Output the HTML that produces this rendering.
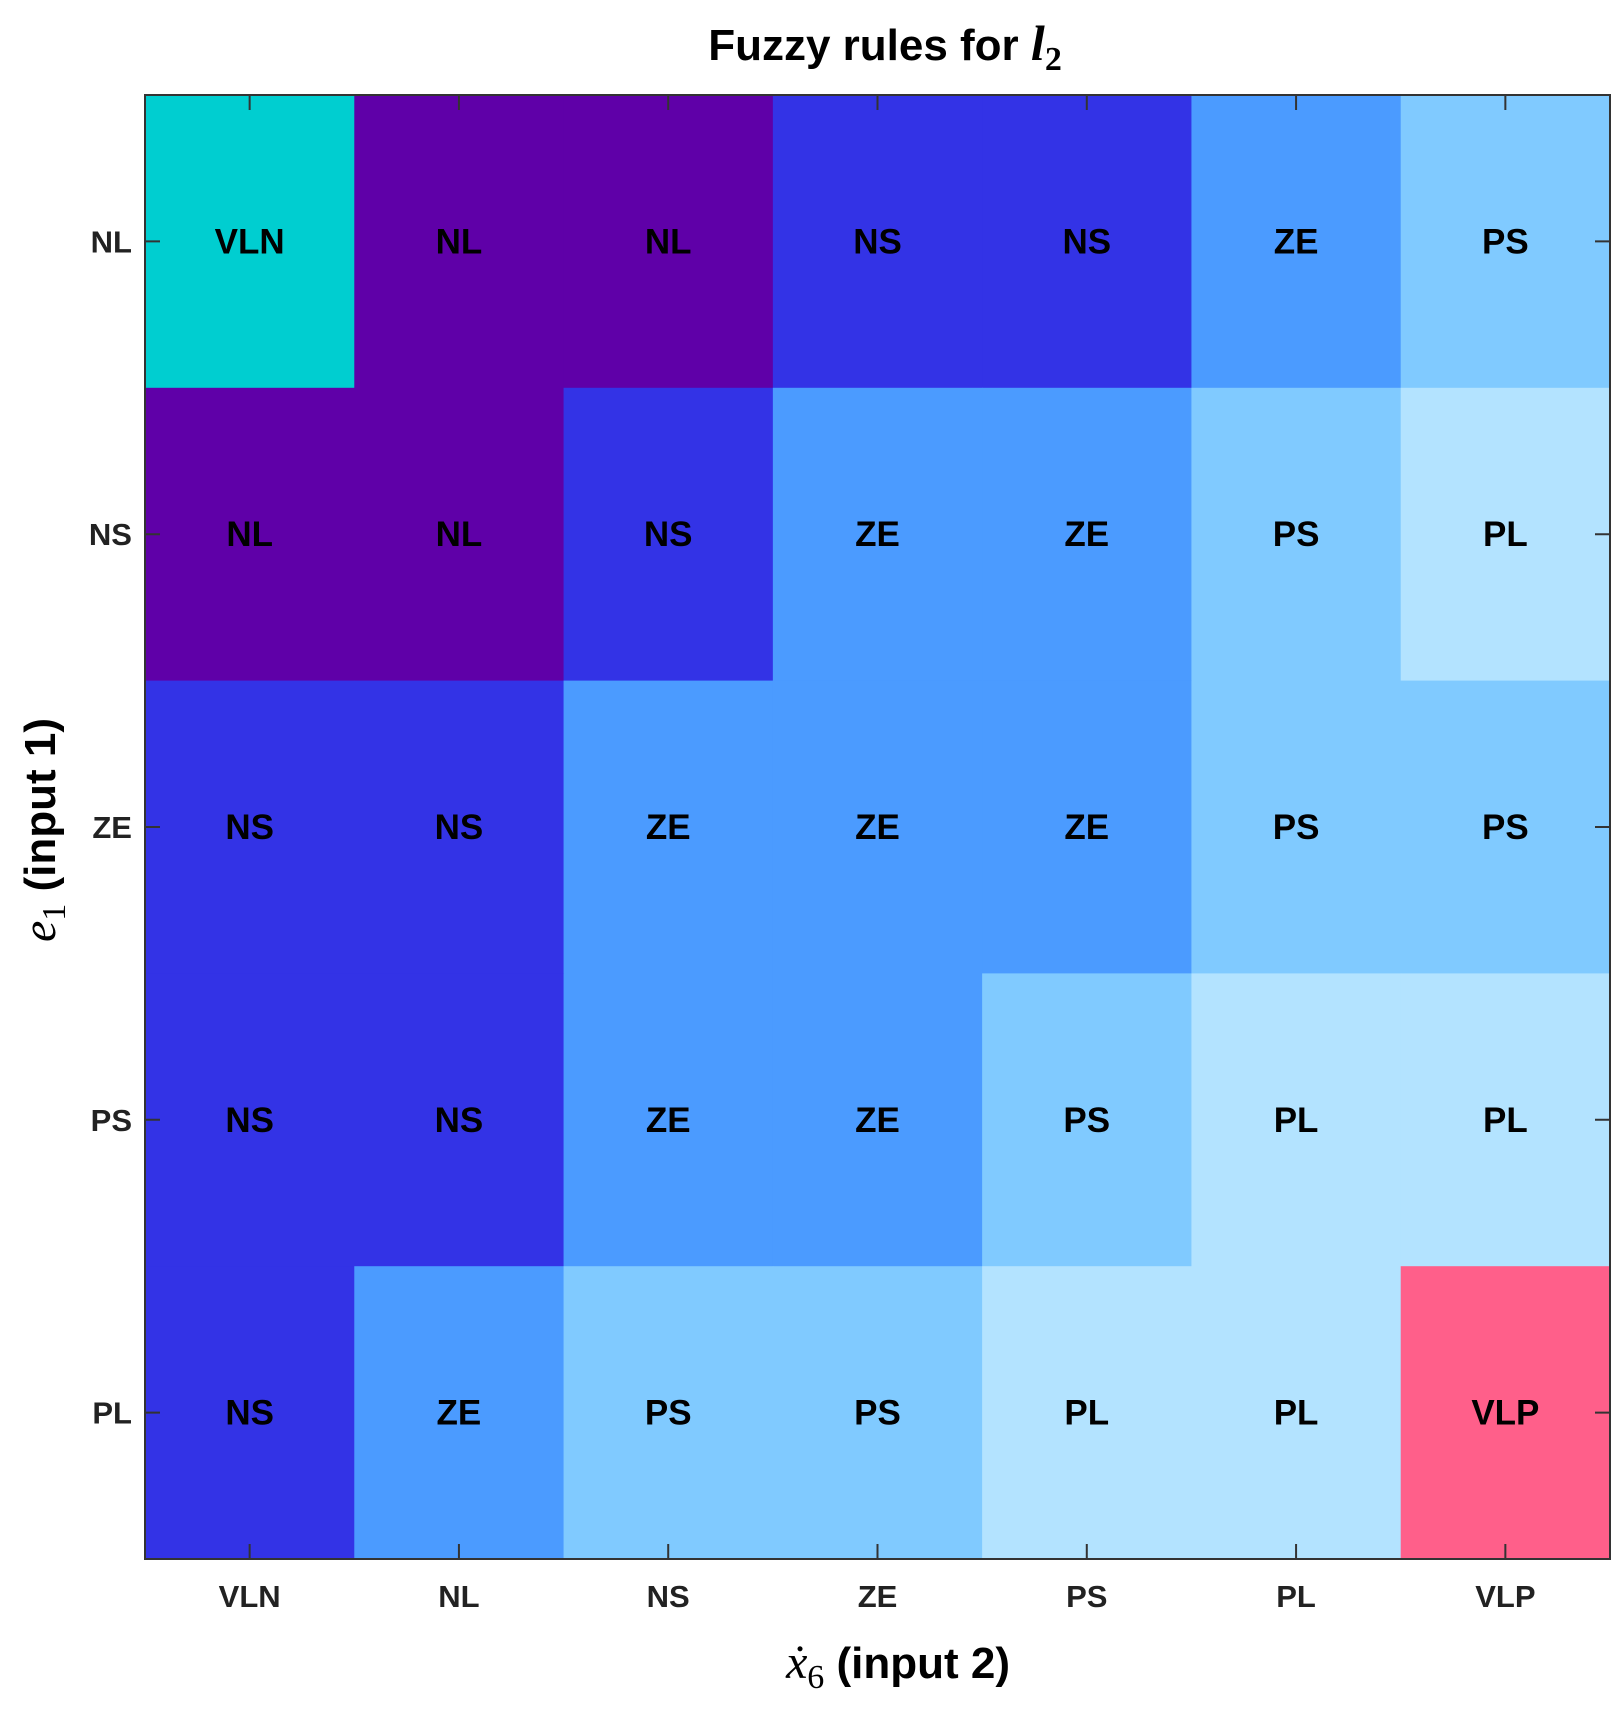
<!DOCTYPE html>
<html><head><meta charset="utf-8"><style>
html,body{margin:0;padding:0;background:#fff;}
svg{display:block;font-family:"Liberation Sans",sans-serif;}
</style></head><body>
<svg id="chart" width="1624" height="1715" viewBox="0 0 1624 1715" xmlns="http://www.w3.org/2000/svg">
<text x="885" y="60" text-anchor="middle" font-size="44" font-weight="bold">Fuzzy rules for <tspan font-family="Liberation Serif" font-style="italic" font-size="50">l</tspan><tspan font-family="Liberation Serif" font-size="34" dy="10">2</tspan></text>
<g id="cells"></g>
<g id="ticks"></g>
<rect x="145" y="95" width="1465" height="1464" fill="none" stroke="#333" stroke-width="2"/>
<text x="898" y="1678" text-anchor="middle" font-size="44" font-weight="bold"><tspan font-family="Liberation Serif" font-style="italic" font-weight="normal" font-size="48">ẋ</tspan><tspan font-family="Liberation Serif" font-weight="normal" font-size="34" dy="10">6</tspan><tspan dy="-10"> (input 2)</tspan></text>
<text transform="translate(55,830) rotate(-90)" text-anchor="middle" font-size="44" font-weight="bold"><tspan font-family="Liberation Serif" font-style="italic" font-weight="normal" font-size="48">e</tspan><tspan font-family="Liberation Serif" font-weight="normal" font-size="34" dy="10">1</tspan><tspan dy="-10"> (input 1)</tspan></text>
</svg>
<script>
const xCategories = ['VLN','NL','NS','ZE','PS','PL','VLP'];
const yCategories = ['NL','NS','ZE','PS','PL'];
const ruleRowNL = ['VLN','NL','NL','NS','NS','ZE','PS'];
const ruleRowNS = ['NL','NL','NS','ZE','ZE','PS','PL'];
const ruleRowZE = ['NS','NS','ZE','ZE','ZE','PS','PS'];
const ruleRowPS = ['NS','NS','ZE','ZE','PS','PL','PL'];
const ruleRowPL = ['NS','ZE','PS','PS','PL','PL','VLP'];
const rules = [ruleRowNL, ruleRowNS, ruleRowZE, ruleRowPS, ruleRowPL];
const outputLevels = ['VLN','NL','NS','ZE','PS','PL','VLP'];
const levelColors = ['#00CED0','#5F00A8','#3333E6','#4B9BFF','#80CAFF','#B3E3FF','#FF5F8A'];

const L=145, T=95, W=1465, H=1464;
const NS='http://www.w3.org/2000/svg';
const cw=W/xCategories.length, ch=H/yCategories.length;
function xPos(i){return L+i*cw;}
function yPos(j){return T+j*ch;}
const cells=document.getElementById('cells');
const ticks=document.getElementById('ticks');
rules.forEach((row,j)=>{
  row.forEach((v,i)=>{
    const r=document.createElementNS(NS,'rect');
    r.setAttribute('x',xPos(i)); r.setAttribute('y',yPos(j));
    r.setAttribute('width',cw+0.5); r.setAttribute('height',ch+0.5);
    r.setAttribute('fill',levelColors[outputLevels.indexOf(v)]);
    
    
    cells.appendChild(r);
    const t=document.createElementNS(NS,'text');
    t.setAttribute('x',xPos(i)+cw/2); t.setAttribute('y',yPos(j)+ch/2+12);
    t.setAttribute('text-anchor','middle'); t.setAttribute('font-size','35'); t.setAttribute('font-weight','bold');
    t.textContent=v;
    
    
    cells.appendChild(t);
  });
});
xCategories.forEach((c,i)=>{
  const cx=xPos(i)+cw/2;
  const p=document.createElementNS(NS,'path');
  p.setAttribute('d',`M${cx},${T}v15M${cx},${T+H}v-15`);
  p.setAttribute('stroke','#333'); p.setAttribute('stroke-width','2');
  
  
  ticks.appendChild(p);
  const t=document.createElementNS(NS,'text');
  t.setAttribute('x',cx); t.setAttribute('y',1607);
  t.setAttribute('text-anchor','middle'); t.setAttribute('font-size','31'); t.setAttribute('font-weight','bold'); t.setAttribute('fill','#222');
  t.textContent=c;
  
  
  ticks.appendChild(t);
});
yCategories.forEach((c,j)=>{
  const cy=yPos(j)+ch/2;
  const p=document.createElementNS(NS,'path');
  p.setAttribute('d',`M${L},${cy}h15M${L+W},${cy}h-15`);
  p.setAttribute('stroke','#333'); p.setAttribute('stroke-width','2');
  
  
  ticks.appendChild(p);
  const t=document.createElementNS(NS,'text');
  t.setAttribute('x',132); t.setAttribute('y',cy+11);
  t.setAttribute('text-anchor','end'); t.setAttribute('font-size','31'); t.setAttribute('font-weight','bold'); t.setAttribute('fill','#222');
  t.textContent=c;
  
  
  ticks.appendChild(t);
});
</script>
</body></html>
